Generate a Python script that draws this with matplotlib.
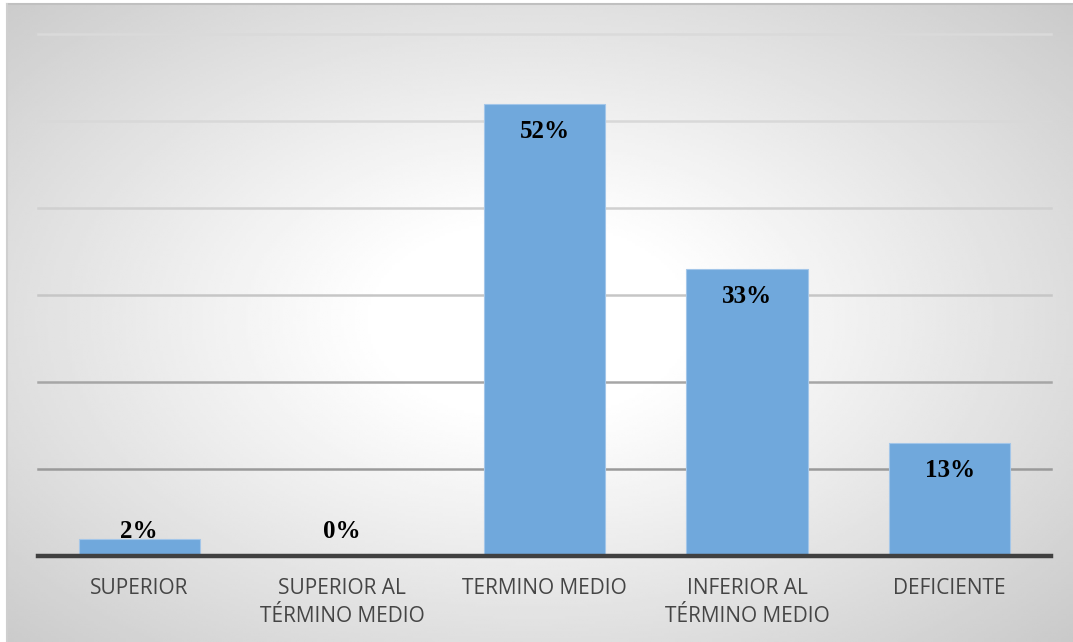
"""Distribucion porcentual por categoria (recreacion de grafico de Excel)."""

import numpy as np
import matplotlib
matplotlib.use("Agg")
import matplotlib.pyplot as plt
from matplotlib.lines import Line2D

W, H, DPI = 1073, 642, 100

categories = ["SUPERIOR", "SUPERIOR AL\nTÉRMINO MEDIO", "TERMINO MEDIO",
              "INFERIOR AL\nTÉRMINO MEDIO", "DEFICIENTE"]
values = [0.02, 0.00, 0.52, 0.33, 0.13]
labels = ["2%", "0%", "52%", "33%", "13%"]
grid_levels = [0.1, 0.2, 0.3, 0.4, 0.5, 0.6]
grid_colors = ["#9a9a9a", "#a6a6a6", "#c6c6c6", "#d0d0d0", "#d8d8d8", "#dadada"]

BAR = "#70a8dc"
TEXT = "#454545"
AXIS = "#404040"

fig = plt.figure(figsize=(W / DPI, H / DPI), dpi=DPI)
fig.patch.set_facecolor("white")

# chart area background: radial gradient, white centre to gray edges
x0, y0 = 7, 4  # chart area top-left in pixels
bg = fig.add_axes([x0 / W, 0, 1 - x0 / W, 1 - y0 / H])
bg.set_axis_off()
xx, yy = np.meshgrid(np.linspace(x0, W, 400), np.linspace(y0, H, 260))
cx, cy = 530, 320
dx = (xx - cx) / 533
dy = (yy - cy) / 330
r = np.sqrt(dx ** 2 + dy ** 2) / np.sqrt(2)
shade = 1 - 0.21 * np.clip((r - 0.2) / 0.8, 0, 1) ** 1.05
bg.imshow(shade, cmap="gray", vmin=0, vmax=1, aspect="auto",
          extent=[0, 1, 0, 1], interpolation="bilinear")
bg.set_xlim(0, 1)
bg.set_ylim(0, 1)
fig.add_artist(Line2D([x0 / W, 1], [1 - y0 / H, 1 - y0 / H], color="#c0c0c0", lw=1.5))
fig.add_artist(Line2D([x0 / W, x0 / W], [0, 1 - y0 / H], color="#cfcfcf", lw=1.5))

left, right, top, base = 38, 1051, 34, 556
ax = fig.add_axes([left / W, 1 - base / H, (right - left) / W, (base - top) / H])
ax.patch.set_alpha(0)
ax.set_xlim(-0.5, len(categories) - 0.5)
ax.set_ylim(0, 0.6)

for lvl, col in zip(grid_levels, grid_colors):
    ax.axhline(lvl, color=col, lw=1.8, zorder=1, clip_on=False)

x = np.arange(len(categories))
ax.bar(x, values, width=0.6, color=BAR, edgecolor="#a3c6e9", linewidth=0.8, zorder=2)
ax.axhline(0, color=AXIS, lw=3.2, zorder=3, clip_on=False)

for xi, v, lab in zip(x, values, labels):
    ax.text(xi, max(v - 0.032, 0.028), lab, ha="center", va="center",
            fontsize=18, fontweight="bold", family="Liberation Serif",
            color="black", zorder=4)

for s in ax.spines.values():
    s.set_visible(False)
ax.set_yticks([])
ax.set_xticks(x)
ax.set_xticklabels(categories, fontsize=15, family="Open Sans", color=TEXT,
                   linespacing=1.45)
ax.tick_params(axis="x", length=0, pad=16)

fig.savefig("out.png", dpi=DPI)
